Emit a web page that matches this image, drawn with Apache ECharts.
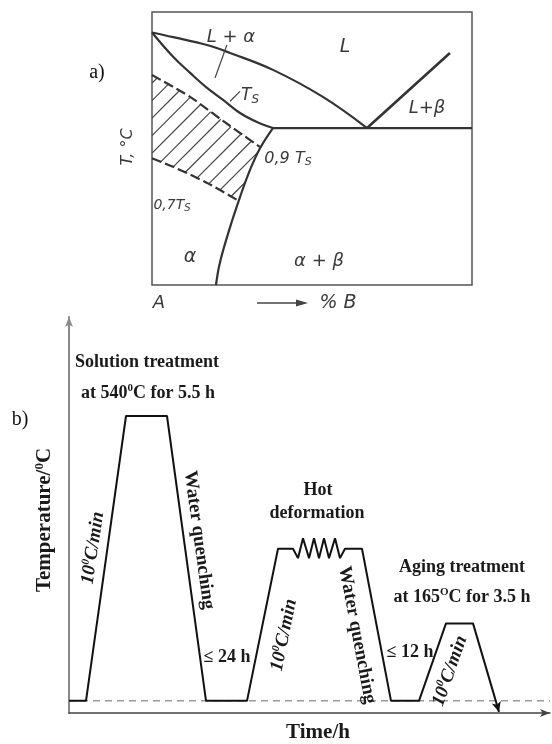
<!DOCTYPE html>
<html><head><meta charset="utf-8">
<script src="https://cdn.jsdelivr.net/npm/echarts/dist/echarts.min.js"></script>
<style>html,body{margin:0;padding:0;background:#fff}#c{width:552px;height:744px}</style>
</head><body><div id="c"></div>
<script>
// ---------- Panel a: phase diagram (x: % B, y: relative temperature 0-100) ----------
const liquidusAlpha = [[0,92.5],[6.6,90.8],[17.2,87.9],[24.4,85.0],[37.8,78.8],[53.4,68.9],[67.2,57.5]];
const solidusAlpha  = [[0,92.5],[6.6,83.6],[11.9,77.7],[17.2,72.2],[22.2,67.8],[27.5,63.0],[32.8,59.7],[37.8,57.5]];
const eutecticLine  = [[37.8,57.5],[100,57.5]];
const liquidusBeta  = [[67.2,57.5],[93.1,85.0]];
const solvusAlpha   = [[37.8,57.5],[33.8,50.2],[30.6,42.1],[27.5,32.2],[24.4,21.2],[21.2,8.1],[20,0]];
const upper09Ts     = [[0,76.9],[11.9,68.9],[22.2,60.1],[33.8,50.5]];
const lower07Ts     = [[0,46.4],[6.6,43.3],[17.2,37.4],[27.1,30.8]];
const leaderLA      = [[19.7,75.8],[23.4,87.9]];
const leaderTs      = [[24.4,67.3],[27.5,70.9]];

// ---------- Panel b: heat-treatment schedule ----------
const profileTime = [0,17,57,98,137,178,209,224,229,234,240,245,250,255,260,266,271,276,293,322,350,377,404,430];
const profileTemp = [25,25,540,540,25,25,300,300,283,319,283,319,283,319,283,319,283,300,300,25,25,165,165,5];
const roomTemp = 25;
const timeMax = 481;

// hatch polygon from the arrays
const lowEnd = lower07Ts[lower07Ts.length-1][1], upEnd = upper09Ts[upper09Ts.length-1][1];
const hatchPoly = upper09Ts
  .concat(solvusAlpha.filter(p => p[1] < upEnd && p[1] > lowEnd))
  .concat(lower07Ts.slice().reverse());

const profileData = profileTime.map((t,i) => {
  if (i === profileTime.length-1) {
    return {value:[t, profileTemp[i]], symbol:'arrow', symbolSize:[7,10], symbolRotate:196, itemStyle:{color:'#111'}};
  }
  return [t, profileTemp[i]];
});

const chart = echarts.init(document.getElementById('c'), null, {renderer:'canvas'});

function lineA(data, smooth, extra) {
  return Object.assign({
    type:'line', xAxisIndex:0, yAxisIndex:0, data:data, smooth:smooth, showSymbol:false,
    lineStyle:{color:'#333', width:2.2}, silent:true, z:3
  }, extra||{});
}

const serif = 'Liberation Serif';
const sansI = 'DejaVu Sans';
function TB(text, x, y, size, rotDeg, opts) {
  opts = opts || {};
  const fam = opts.family||serif, w = opts.weight||'bold', st = opts.style||'normal', col = opts.fill||'#1a1a1a';
  return {
    type:'text', x:x, y:y, rotation:(rotDeg||0)*Math.PI/180, z:10,
    style:{
      text:text, fill:col, align:'center', verticalAlign:'middle',
      fontFamily:fam, fontSize:size, fontWeight:w, fontStyle:st, lineHeight:size+2,
      rich:{
        s:{fontSize:Math.round(size*0.6), fontFamily:fam, fontWeight:w, fontStyle:st, verticalAlign:'top', lineHeight:Math.round(size*0.6), fill:col},
        b:{fontSize:Math.round(size*0.7), fontFamily:fam, fontWeight:w, fontStyle:st, verticalAlign:'bottom', lineHeight:Math.round(size*0.7), fill:col}
      }
    }
  };
}
function TA(text, x, y, size, rotDeg) {
  return TB(text, x, y, size, rotDeg, {family:sansI, weight:'normal', style:'italic', fill:'#3a3a3a'});
}

const option = {
  animation:false,
  backgroundColor:'#fff',
  grid:[
    {left:152, top:12, width:320, height:273, show:true, borderColor:'#555', borderWidth:1.5, backgroundColor:'transparent'},
    {left:69, top:317, width:timeMax, height:396}
  ],
  xAxis:[
    {gridIndex:0, type:'value', min:0, max:100, show:false},
    {gridIndex:1, type:'value', min:0, max:timeMax,
      axisLine:{show:true, symbol:['none','arrow'], symbolSize:[6,10], lineStyle:{color:'#444', width:1.5}},
      axisTick:{show:false}, axisLabel:{show:false}, splitLine:{show:false}}
  ],
  yAxis:[
    {gridIndex:0, type:'value', min:0, max:100, show:false},
    {gridIndex:1, type:'value', min:3, max:719,
      axisLine:{show:true, symbol:['none','arrow'], symbolSize:[6,10], lineStyle:{color:'#8a8a8a', width:2}},
      axisTick:{show:false}, axisLabel:{show:false}, splitLine:{show:false}}
  ],
  series:[
    lineA(liquidusAlpha, 0.4),
    lineA(solidusAlpha, 0.4),
    lineA(eutecticLine, false),
    lineA(liquidusBeta, false, {lineStyle:{color:'#333', width:2.6}}),
    lineA(solvusAlpha, 0.4),
    lineA(upper09Ts, 0.3, {lineStyle:{color:'#333', width:2.2, type:[10,4]}}),
    lineA(lower07Ts, 0.3, {lineStyle:{color:'#333', width:2.2, type:[10,4]}}),
    lineA(leaderLA, false, {lineStyle:{color:'#444', width:1.2}}),
    lineA(leaderTs, false, {lineStyle:{color:'#444', width:1.2}}),
    {
      type:'custom', xAxisIndex:0, yAxisIndex:0, data:[[0,0]], silent:true, z:2,
      renderItem:function(params, api){
        const pts = hatchPoly.map(p => api.coord(p));
        const sums = pts.map(p => p[0]+p[1]);
        const cMin = Math.min.apply(null,sums), cMax = Math.max.apply(null,sums);
        const step = 17.5;
        const children = [];
        for (let c = cMin + 8; c < cMax; c += step) {
          const hits = [];
          for (let i=0;i<pts.length;i++){
            const a = pts[i], b = pts[(i+1)%pts.length];
            const fa = a[0]+a[1]-c, fb = b[0]+b[1]-c;
            if ((fa<0 && fb>=0) || (fa>=0 && fb<0)) {
              const t = fa/(fa-fb);
              hits.push([a[0]+(b[0]-a[0])*t, a[1]+(b[1]-a[1])*t]);
            }
          }
          hits.sort((p,q)=>p[0]-q[0]);
          for (let k=0;k+1<hits.length;k+=2){
            children.push({type:'line', shape:{x1:hits[k][0],y1:hits[k][1],x2:hits[k+1][0],y2:hits[k+1][1]},
              style:{stroke:'#444', lineWidth:1.2}});
          }
        }
        return {type:'group', children:children};
      }
    },
    {
      type:'line', xAxisIndex:1, yAxisIndex:1, silent:true, showSymbol:false, z:1,
      data:[[0,roomTemp],[timeMax,roomTemp]],
      lineStyle:{color:'#9a9a9a', width:1.5, type:[7,5]}
    },
    {
      type:'line', xAxisIndex:1, yAxisIndex:1, silent:true, z:3,
      showSymbol:true, symbol:'none',
      data:profileData,
      lineStyle:{color:'#111', width:2}
    }
  ],
  graphic:[
    // panel a labels
    TB('a)', 97, 73, 20, 0, {weight:'normal', fill:'#111'}),
    TA('T, °C', 128, 147, 16, 90),
    TA('L + α', 231, 37, 18),
    TA('L', 345, 47, 19),
    TA('T{b|S}', 250, 96, 17),
    TA('L+β', 427, 108, 18),
    TA('0,9 T{b|S}', 288, 159, 16),
    TA('0,7T{b|S}', 172, 205, 14),
    TA('α', 190, 257, 19),
    TA('α + β', 319, 261, 18),
    TA('A', 159, 303, 18),
    TA('% B', 338, 303, 19),
    {type:'line', shape:{x1:257,y1:303,x2:300,y2:303}, style:{stroke:'#444', lineWidth:1.5}},
    {type:'polygon', shape:{points:[[308,303],[296,299.5],[296,306.5]]}, style:{fill:'#444'}},
    // panel b labels
    TB('b)', 20, 420, 20, 0, {weight:'normal', fill:'#111'}),
    TB('Solution treatment', 147, 362, 18),
    TB('at 540{s|0}C for 5.5 h', 148, 393, 18),
    TB('Temperature/{s|0}C', 45, 520, 21, 90),
    TB('10{s|0}C/min', 93, 548, 19, 81.4, {style:'italic'}),
    TB('Water quenching', 199, 540, 19, -82.2),
    TB('≤ 24 h', 227, 657, 18),
    TB('Hot', 318, 490, 18),
    TB('deformation', 317, 513, 18),
    TB('10{s|0}C/min', 284, 635, 19, 78.5, {style:'italic'}),
    TB('Water quenching', 357, 635, 19, -79.2),
    TB('≤ 12 h', 410, 652, 18),
    TB('Aging treatment', 462, 567, 18),
    TB('at 165{s|O}C for 3.5 h', 462, 597, 18),
    TB('10{s|0}C/min', 450, 671, 19, 70.7, {style:'italic'}),
    TB('Time/h', 318, 733, 21)
  ]
};
chart.setOption(option);
</script>
</body></html>
